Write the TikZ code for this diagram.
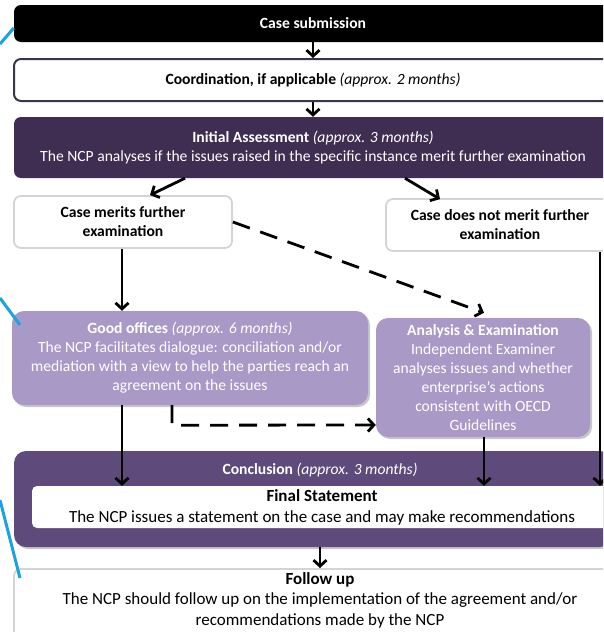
\documentclass[tikz,border=0pt]{standalone}
\usepackage{fontspec}
\setmainfont{Carlito}
\usetikzlibrary{arrows.meta,shadows}
\definecolor{initc}{HTML}{3F2E51}
\definecolor{conclc}{HTML}{5E4A7B}
\definecolor{goodc}{HTML}{A999C6}
\definecolor{coordb}{HTML}{3C3447}
\definecolor{lightb}{HTML}{D4D4D4}
\definecolor{bluec}{HTML}{1AA3E0}
\begin{document}
\begin{tikzpicture}[x=1pt,y=-1pt,
  every node/.style={font=\fontsize{15.6}{19}\selectfont, align=center, inner sep=0pt},
  bigtxt/.style={font=\fontsize{17}{20.5}\selectfont},
  box/.style={rounded corners=7pt, minimum width=#1},
  box/.default=598pt,
  arr/.style={line width=2.8pt, -{Straight Barb[length=6pt,width=13pt]}},
  dsh/.style={arr, dash pattern=on 18pt off 11pt},
  lnk/.style={line width=3pt, draw=bluec},
  shad/.style={drop shadow={shadow xshift=2pt, shadow yshift=-2pt, fill=black, opacity=0.22}}
]
\useasboundingbox (0,0) rectangle (603,632);
\clip (0,0) rectangle (603,632);

% boxes
\node[box, fill=black, text=white, minimum height=37pt] (sub) at (313,23.5) {\bfseries Case submission};
\node[box, fill=white, draw=coordb, line width=2pt, minimum height=42pt] (coord) at (313,80)
  {\textbf{Coordination, if applicable} \textit{(approx. 2 months)}};
\node[box, fill=initc, text=white, minimum height=61pt] (init) at (313,147.5)
  {\textbf{Initial Assessment} \textit{(approx. 3 months)}\\
   The NCP analyses if the issues raised in the specific instance merit further examination};
\node[box=218pt, fill=white, draw=lightb, line width=1.8pt, minimum height=52pt] (merit) at (123,222)
  {\textbf{Case merits further}\\\textbf{examination}};
\node[box=228pt, fill=white, draw=lightb, line width=1.8pt, minimum height=52pt] (notmerit) at (500,225)
  {\textbf{Case does not merit further}\\\textbf{examination}};
\node[box=356pt, rounded corners=12pt, fill=goodc, text=white, minimum height=94pt, shad] (good) at (190,358)
  {\textbf{Good offices} \textit{(approx. 6 months)}\\
   The NCP facilitates dialogue: conciliation and/or\\
   mediation with a view to help the parties reach an\\
   agreement on the issues};
\node[box=214pt, rounded corners=12pt, fill=goodc, text=white, minimum height=119pt, shad] (anal) at (483,377.5)
  {\textbf{Analysis \& Examination}\\
   Independent Examiner\\
   analyses issues and whether\\
   enterprise's actions\\
   consistent with OECD\\
   Guidelines};
\node[box, rounded corners=12pt, fill=conclc, minimum height=96pt, shad] (concl) at (313,499) {};
\node[text=white] (concllab) at (320,470) {\textbf{Conclusion} \textit{(approx. 3 months)}};
\node[box=580pt, rounded corners=5pt, fill=white, minimum height=42pt] (final) at (322,507)
  {};
\node[bigtxt] (finaltxt) at (322,507.5)
  {\textbf{Final Statement}\\
   The NCP issues a statement on the case and may make recommendations};
\node[box, fill=white, draw=lightb, line width=1.8pt, minimum height=78pt, anchor=north] (follow) at (313,568) {};
\node[bigtxt] (followtxt) at (320,600)
  {\textbf{Follow up}\\
   The NCP should follow up on the implementation of the agreement and/or\\
   recommendations made by the NCP};

% helper coordinates
\coordinate (xa) at (185,0);
\coordinate (xb) at (150,0);
\coordinate (xc) at (405,0);
\coordinate (xd) at (440,0);
\coordinate (xe) at (172,0);
\coordinate (xr) at (600,0);
\coordinate (xm) at (122,0);
\coordinate (xg) at (484,0);

% connectors
\draw[arr] (sub.south) -- (coord.north);
\draw[arr] (coord.south) -- (init.north);
\draw[arr] (xa |- init.south) -- (xb |- merit.north);
\draw[arr] (xc |- init.south) -- ([yshift=-1pt]xd |- notmerit.north);
\draw[arr] (xm |- merit.south) -- (xm |- good.north);
\draw[dsh] (merit.east) -- ([yshift=5pt]xg |- anal.north);
\draw[dsh] (xe |- good.south) -- ++(0,20) -- (anal.west |- 0,425);
\draw[arr] (xm |- good.south) -- (xm |- final.north);
\draw[arr] (xg |- anal.south) -- (xg |- final.north);
\draw[arr] (xr |- notmerit.south) -- (xr |- final.north);
\draw[arr] (concl.south -| 320,0) -- (follow.north -| 320,0);

% partial blue links at the left edge
\coordinate (b1a) at (0,44);
\coordinate (b2a) at (0,298);
\coordinate (b3a) at (0,500);
\draw[lnk] (b1a) -- (sub.west |- 0,28);
\draw[lnk] (b2a) -- (20,325);
\draw[lnk] (b3a) -- (20,578);
\end{tikzpicture}
\end{document}
